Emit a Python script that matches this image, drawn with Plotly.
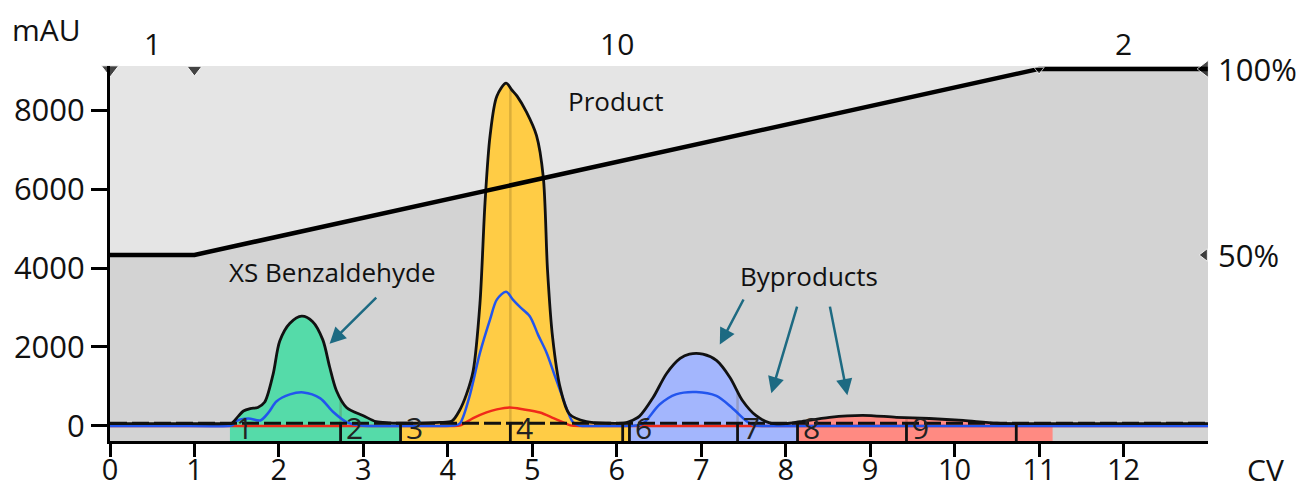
import numpy as np
import plotly.graph_objects as go

# ---------------- data ----------------
uv1_cv = [0.0, 0.7, 1.40, 1.44, 1.52, 1.58, 1.66, 1.75, 1.83, 1.93, 2.01, 2.13, 2.27, 2.40, 2.52,
          2.60, 2.68, 2.80, 3.00, 3.15, 3.30, 3.60, 3.90, 4.05, 4.14, 4.22, 4.30, 4.38,
          4.44, 4.50, 4.58, 4.69, 4.76, 4.82, 4.93, 5.05, 5.13, 5.18, 5.24, 5.33, 5.44,
          5.64, 5.90, 6.10, 6.15, 6.27, 6.43, 6.59, 6.75, 6.86, 7.02, 7.18, 7.34, 7.49,
          7.65, 7.81, 8.00, 8.17, 8.52, 8.91, 9.31, 9.70, 10.10, 10.50, 11.0, 12.0, 13.0]
uv1_mau = [60, 60, 60, 70, 250, 380, 440, 470, 600, 1300, 2150, 2600, 2780, 2640, 2180,
           1500, 900, 470, 260, 110, 80, 70, 90, 130, 400, 800, 1400, 3100,
           5650, 7350, 8350, 8680, 8500, 8350, 7950, 7350, 6300, 3950, 2250, 970, 300,
           110, 70, 80, 110, 250, 720, 1330, 1710, 1820, 1820, 1660, 1230, 640,
           260, 80, 60, 110, 220, 270, 220, 190, 140, 70, 60, 60, 60]

uv2_cv = [0.0, 0.7, 1.40, 1.45, 1.50, 1.64, 1.78, 1.88, 1.97, 2.13, 2.29, 2.49, 2.64, 2.80, 2.95,
          3.05, 3.50, 3.95, 4.06, 4.14, 4.25, 4.38, 4.50, 4.58, 4.69, 4.77, 4.85, 4.97, 5.07,
          5.17, 5.27, 5.36, 5.48, 5.56, 5.75, 6.00, 6.22, 6.31, 6.51, 6.70, 6.94, 7.18, 7.37,
          7.55, 7.64, 7.80, 8.5, 9.5, 10.5, 11.5, 12.3, 13.0]
uv2_mau = [0, 0, 0, 20, 130, 190, 140, 350, 620, 800, 850, 700, 360, 100, 20,
           0, 0, 0, 10, 60, 700, 1850, 2700, 3200, 3400, 3200, 3020, 2780, 2300,
           1850, 1250, 720, 100, 10, 0, 0, 10, 60, 550, 800, 860, 760, 450,
           100, 10, 0, 0, 0, 0, 0, 0, 0]

uv3_cv = [0.0, 1.0, 2.0, 3.0, 3.7, 4.05, 4.15, 4.30, 4.45, 4.58, 4.73, 4.90, 5.09, 5.25,
          5.36, 5.45, 5.60, 6.0, 7.0, 8.0, 9.0, 10.0, 11.0, 12.0, 13.0]
uv3_mau = [0, 0, 0, 0, 0, 0, 20, 200, 340, 420, 470, 420, 340, 200,
           100, 15, 0, 0, 0, 0, 0, 0, 0, 0, 0]

grad_cv = [0, 1, 11, 13]
grad_pct = [50, 50, 100, 100]

block_edges = [0, 1, 11, 13]
block_labels = ["1", "10", "2"]

frac_edges = [1.42, 2.73, 3.44, 4.74, 6.07, 6.15, 7.43, 8.14, 9.43, 10.73, 11.16]
frac_labels = ["1", "2", "3", "4", "", "6", "7", "8", "9", ""]
frac_groups = ["green", "green", "yellow", "yellow", "yellow", "blue", "blue", "red", "red", "red"]

x_ticks = list(range(0, 13))
y_ticks = [0, 2000, 4000, 6000, 8000]
pct_ticks = [50, 100]

callouts = [("XS Benzaldehyde", 2.63, 3900), ("Product", 5.98, 8230), ("Byproducts", 8.27, 3800)]
arrows = [  # (tail cv, tail mAU, head cv, head mAU)
    (3.17, 3290, 2.60, 2080),
    (7.51, 3240, 7.22, 2060),
    (8.14, 3060, 7.83, 830),
    (8.52, 3060, 8.73, 780),
]

# ---------------- styling ----------------
Y_MIN, Y_MAX = -380, 9114
PCT0, PCT100 = -380, 9040          # mAU positions of 0 % and 100 % of the gradient scale
FONT = "Open Sans"
COL = {"green": "#55dba9", "yellow": "#ffcc45", "blue": "#a3b6fd", "red": "#ff8a82"}
LIGHT = "#e5e5e5"
DARK = "#d3d3d3"
ARROW = "#1d6a82"
SMOOTH = 0.85


def pct_y(p):
    return PCT0 + np.asarray(p, dtype=float) / 100.0 * (PCT100 - PCT0)


grad_y = list(pct_y(grad_pct))

fig = go.Figure()

# light region above the gradient line
fig.add_trace(go.Scatter(
    x=grad_cv + [grad_cv[-1], grad_cv[0]],
    y=grad_y + [Y_MAX + 500, Y_MAX + 500],
    mode="lines", line=dict(width=0),
    fill="toself", fillcolor=LIGHT, hoverinfo="skip", showlegend=False))

# fraction fills under the UV curve
groups = []
for i, g in enumerate(frac_groups):
    a, b = frac_edges[i], frac_edges[i + 1]
    if groups and groups[-1][2] == g:
        groups[-1][1] = b
    else:
        groups.append([a, b, g])

for a, b, g in groups:
    xs = [a] + [x for x in uv1_cv if a < x < b] + [b]
    ys = list(np.interp(xs, uv1_cv, uv1_mau))
    fig.add_trace(go.Scatter(x=[a, b], y=[Y_MIN - 50, Y_MIN - 50], mode="lines",
                             line=dict(width=0), hoverinfo="skip", showlegend=False))
    fig.add_trace(go.Scatter(x=xs, y=ys, mode="lines",
                             line=dict(width=0, shape="spline", smoothing=SMOOTH),
                             fill="tonexty", fillcolor=COL[g], hoverinfo="skip", showlegend=False))

# faint fraction dividers inside the peaks
for i in range(1, len(frac_edges) - 1):
    d = frac_edges[i]
    if frac_groups[i - 1] == frac_groups[i]:
        top = float(np.interp(d, uv1_cv, uv1_mau))
        fig.add_trace(go.Scatter(x=[d, d], y=[0, top - 40], mode="lines",
                                 line=dict(color="rgba(90,70,20,0.22)", width=2.5),
                                 hoverinfo="skip", showlegend=False))

# UV3 (red), UV2 (blue), UV1 (black)
fig.add_trace(go.Scatter(x=uv3_cv, y=uv3_mau, mode="lines",
                         line=dict(color="#f02a1a", width=2.5, shape="spline", smoothing=SMOOTH),
                         showlegend=False))
fig.add_trace(go.Scatter(x=uv2_cv, y=uv2_mau, mode="lines",
                         line=dict(color="#2255ee", width=2.5, shape="spline", smoothing=SMOOTH),
                         showlegend=False))
fig.add_trace(go.Scatter(x=uv1_cv, y=uv1_mau, mode="lines",
                         line=dict(color="#111111", width=2.8, shape="spline", smoothing=SMOOTH),
                         showlegend=False))

# dashed baseline
fig.add_trace(go.Scatter(x=[0, 13], y=[70, 70], mode="lines",
                         line=dict(color="#111111", width=3, dash="17px,5px"),
                         hoverinfo="skip", showlegend=False))

# fraction dividers in the bar
for i in range(1, len(frac_edges) - 1):
    d = frac_edges[i]
    fig.add_trace(go.Scatter(x=[d, d], y=[Y_MIN - 50, 60], mode="lines",
                             line=dict(color="#111111", width=2.8),
                             hoverinfo="skip", showlegend=False))

# gradient line
fig.add_trace(go.Scatter(x=grad_cv, y=grad_y, mode="lines",
                         line=dict(color="#000000", width=4.5), cliponaxis=False,
                         hoverinfo="skip", showlegend=False))

# block markers (top) and gradient markers (right)
fig.add_trace(go.Scatter(x=block_edges[:-1], y=[Y_MAX - 90] * (len(block_edges) - 1),
                         mode="markers", marker=dict(symbol="triangle-down", size=[15, 13, 9],
                                                     color="#000000"),
                         cliponaxis=False, hoverinfo="skip", showlegend=False))
fig.add_trace(go.Scatter(x=[grad_cv[-1] - 0.04] * 2, y=list(pct_y(pct_ticks)), mode="markers",
                         marker=dict(symbol="triangle-left", size=[11, 15], color="#000000"),
                         cliponaxis=False, hoverinfo="skip", showlegend=False))

TXT = dict(showarrow=False, xanchor="center", yanchor="middle")
ann = []
# block labels above the plot
for i, lab in enumerate(block_labels):
    ann.append(dict(x=(block_edges[i] + block_edges[i + 1]) / 2, xref="x", y=1.059, yref="paper",
                    text=lab, font=dict(family=FONT, size=30, color="#111"), **TXT))
# gradient percent labels
for p in pct_ticks:
    ann.append(dict(x=13, xref="x", y=float(pct_y(p)), yref="y", text=f"{p}%", xanchor="left",
                    yanchor="middle", xshift=8, showarrow=False,
                    font=dict(family=FONT, size=31, color="#111")))
# fraction labels
for i, lab in enumerate(frac_labels):
    if lab:
        ann.append(dict(x=frac_edges[i] + 0.17, xref="x", y=-50, yref="y", text=lab,
                        font=dict(family=FONT, size=30, color="#222"), **TXT))
# callouts
for t, cx, cy in callouts:
    ann.append(dict(x=cx, y=cy, xref="x", yref="y", text=t,
                    font=dict(family=FONT, size=26, color="#111"), **TXT))
for tx, ty, hx, hy in arrows:
    ann.append(dict(x=hx, y=hy, ax=tx, ay=ty, xref="x", yref="y", axref="x", ayref="y",
                    text="", showarrow=True, arrowhead=2, arrowsize=1.3, arrowwidth=2.5,
                    arrowcolor=ARROW, standoff=0, startstandoff=0))
# axis titles
ann.append(dict(x=-0.0574, y=1.096, xref="paper", yref="paper", text="mAU",
                font=dict(family=FONT, size=30, color="#111"), **TXT))
ann.append(dict(x=1.052, y=-0.077, xref="paper", yref="paper", text="CV",
                font=dict(family=FONT, size=30, color="#111"), **TXT))

# the page body has an 8 px margin: size the figure so the plot area lands on the
# reference's pixels (plot area 110..1208 x 66..441 in the 1304x489 window)
fig.update_layout(
    width=1296, height=481,
    margin=dict(l=102, r=96, t=58, b=48, autoexpand=False),
    paper_bgcolor="white", plot_bgcolor=DARK,
    showlegend=False,
    font=dict(family=FONT, size=30, color="#111"),
    xaxis=dict(range=[0, 13], tickvals=x_ticks, ticks="outside", ticklen=13, tickwidth=3,
               tickcolor="#000", showline=True, linewidth=3, linecolor="#000", automargin=False,
               ticklabelstandoff=-12,
               showgrid=False, zeroline=False, tickfont=dict(family=FONT, size=29, color="#111")),
    yaxis=dict(range=[Y_MIN, Y_MAX], tickvals=y_ticks, ticks="outside", ticklen=16, tickwidth=3,
               tickcolor="#000", showline=True, linewidth=3, linecolor="#000", automargin=False,
               showgrid=False, zeroline=False, tickfont=dict(family=FONT, size=31, color="#111")),
    annotations=ann,
)

fig.write_html("out.html")
